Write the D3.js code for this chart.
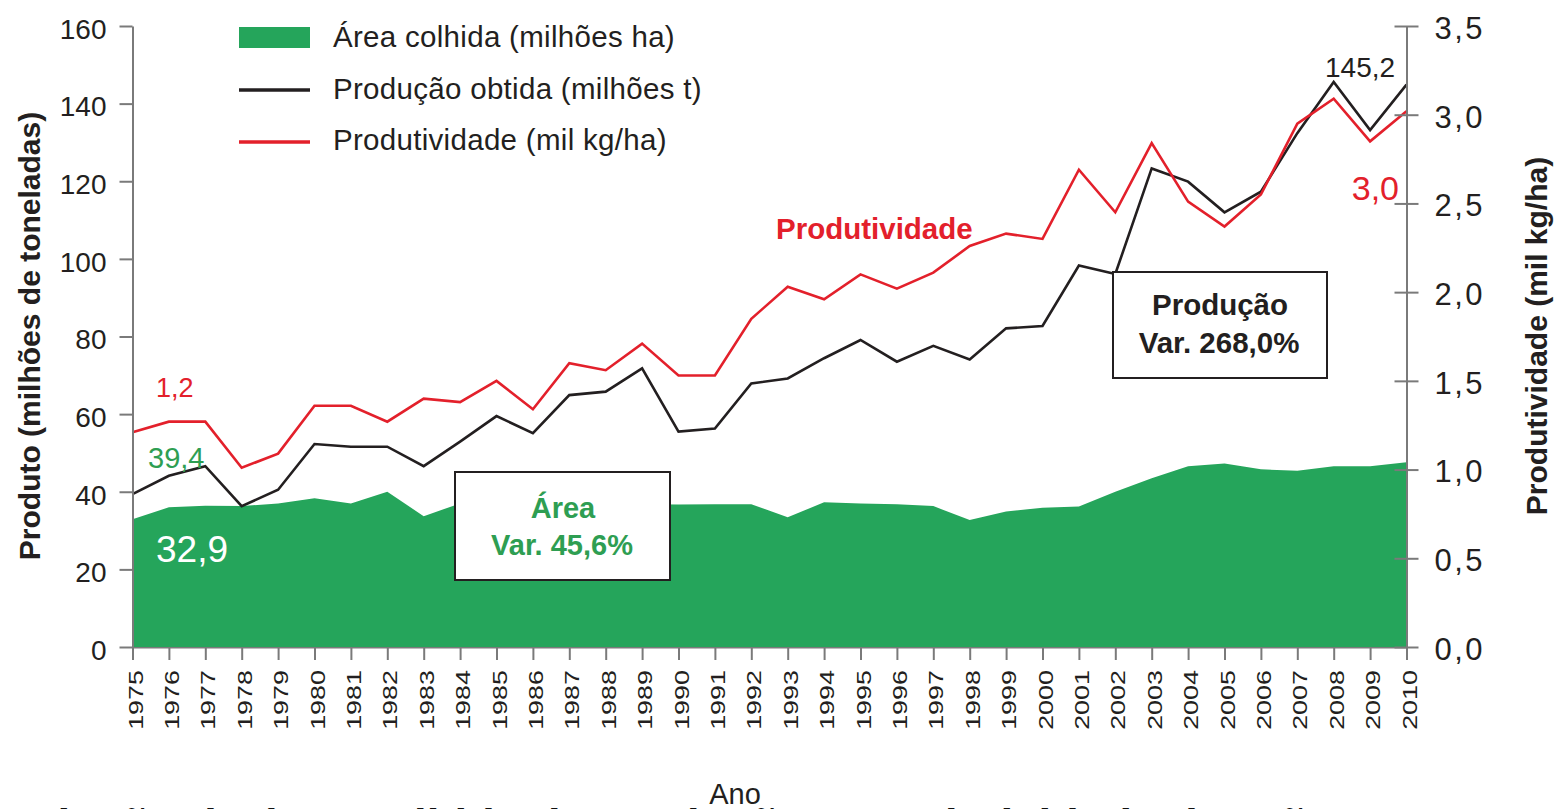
<!DOCTYPE html>
<html><head><meta charset="utf-8">
<script src="https://cdn.jsdelivr.net/npm/d3@7"></script>
<style>html,body{margin:0;padding:0;background:#fff;overflow:hidden}</style>
</head><body>
<svg id="c" width="1557" height="809"></svg>
<script>
const years = [1975,1976,1977,1978,1979,1980,1981,1982,1983,1984,1985,1986,1987,1988,1989,1990,1991,1992,1993,1994,1995,1996,1997,1998,1999,2000,2001,2002,2003,2004,2005,2006,2007,2008,2009,2010];
const areaColhida = [32.9,36.0,36.4,36.3,37.0,38.3,37.0,40.0,33.7,37.0,37.8,37.5,37.0,37.2,36.8,36.7,36.8,36.8,33.4,37.3,37.0,36.8,36.3,32.7,34.9,35.9,36.2,40.0,43.5,46.6,47.3,45.8,45.4,46.6,46.6,47.6];
const producao = [39.4,44.1,46.6,36.3,40.5,52.3,51.6,51.6,46.6,52.9,59.5,55.1,64.9,65.8,71.8,55.5,56.3,67.9,69.2,74.4,79.1,73.5,77.6,74.1,82.1,82.7,98.3,96.1,123.3,119.9,112.0,117.3,132.4,145.6,133.2,144.9];
const produtividade = [1.21,1.27,1.27,1.01,1.09,1.36,1.36,1.27,1.40,1.38,1.50,1.34,1.60,1.56,1.71,1.53,1.53,1.85,2.03,1.96,2.10,2.02,2.11,2.26,2.33,2.30,2.69,2.45,2.84,2.51,2.37,2.55,2.95,3.09,2.85,3.02];
const leftTicks = [0,20,40,60,80,100,120,140,160];
const rightTicks = [0,0.5,1.0,1.5,2.0,2.5,3.0,3.5];
const legendLabels = ["Área colhida (milhões ha)","Produção obtida (milhões t)","Produtividade (mil kg/ha)"];
const leftTitle = "Produto (milhões de toneladas)";
const rightTitle = "Produtividade (mil kg/ha)";
const xTitle = "Ano";
const caption = "Evolução da área colhida da produção e produtividade de grãos – anos 1975 a 2010";

const GREEN = "#25a55b", RED = "#e3202b", BLACK = "#231f20", AXIS = "#7a7a7a";
const FONT = "'Liberation Sans', Arial, Helvetica, sans-serif";
const x0 = 132.5, x1 = 1406.5, yBottom = 647, yTop = 26;

const svg = d3.select("#c").style("font-family", FONT);
const x = d3.scaleLinear().domain([years[0], years[years.length-1]]).range([x0, x1]);
const yL = d3.scaleLinear().domain([0,160]).range([yBottom, yTop]);
const yR = d3.scaleLinear().domain([0,3.5]).range([yBottom, yTop]);

function txt(g, s, tx, ty, o) {
  o = o || {};
  const t = g.append("text").text(s)
    .attr("transform", o.transform || `translate(${tx},${ty})`)
    .attr("font-size", o.size || 28)
    .attr("font-weight", o.bold ? "bold" : "normal")
    .attr("fill", o.fill || BLACK)
    .attr("text-anchor", o.anchor || "start")
    .style("font-family", FONT);
  if (o.ls) t.attr("letter-spacing", o.ls);
  return t;
}

// X axis (drawn beneath area)
const gx = svg.append("g").attr("transform", `translate(0,${yBottom})`)
  .call(d3.axisBottom(x).tickValues(years).tickSize(13).tickSizeOuter(0).tickFormat(d => String(d)));
gx.attr("font-family", null).attr("font-size", null);
gx.select(".domain").attr("stroke", AXIS).attr("stroke-width", 2);
gx.selectAll(".tick line").attr("stroke", AXIS).attr("stroke-width", 2);
gx.selectAll(".tick text")
  .attr("x", null).attr("y", null).attr("dy", null)
  .attr("text-anchor", "end")
  .attr("transform", "translate(9.5,23) rotate(-90) scale(1.38,1)")
  .attr("font-size", 19.5).attr("fill", BLACK).style("font-family", FONT);

// Area
svg.append("path").datum(areaColhida)
  .attr("fill", GREEN)
  .attr("d", d3.area().x((d,i) => x(years[i])).y0(yL(0)).y1(d => yL(d)));

// Lines
svg.append("path").datum(producao)
  .attr("fill", "none").attr("stroke", BLACK).attr("stroke-width", 2.6).attr("stroke-linejoin", "miter")
  .attr("d", d3.line().x((d,i) => x(years[i])).y(d => yL(d)));
svg.append("path").datum(produtividade)
  .attr("fill", "none").attr("stroke", RED).attr("stroke-width", 2.6).attr("stroke-linejoin", "miter")
  .attr("d", d3.line().x((d,i) => x(years[i])).y(d => yR(d)));

// Left axis
const gl = svg.append("g").attr("transform", `translate(${x0},0)`)
  .call(d3.axisLeft(yL).tickValues(leftTicks).tickSize(13).tickPadding(13).tickSizeOuter(0).tickFormat(d3.format("d")));
gl.attr("font-family", null).attr("font-size", null);
gl.select(".domain").attr("stroke", AXIS).attr("stroke-width", 2);
gl.selectAll(".tick line").attr("stroke", AXIS).attr("stroke-width", 2);
gl.selectAll(".tick text").attr("dy", "0.44em").attr("font-size", 28).attr("fill", BLACK).style("font-family", FONT);

// Right axis
const gr = svg.append("g").attr("transform", `translate(${x1},0)`)
  .call(d3.axisRight(yR).tickValues(rightTicks).tickSize(12).tickPadding(16).tickSizeOuter(0)
    .tickFormat(d => d3.format(".1f")(d).replace(".", ",")));
gr.attr("font-family", null).attr("font-size", null);
gr.select(".domain").attr("stroke", AXIS).attr("stroke-width", 2);
gr.selectAll(".tick line").attr("x1", -12).attr("x2", 12).attr("stroke", AXIS).attr("stroke-width", 2);
gr.selectAll(".tick text").attr("dy", "0.40em").attr("font-size", 31).attr("letter-spacing", 2.5)
  .attr("fill", BLACK).style("font-family", FONT);

// Axis titles
txt(svg, leftTitle, 0, 0, {transform: "translate(39.5,336) rotate(-90)", size: 30, bold: true, anchor: "middle"});
txt(svg, rightTitle, 0, 0, {transform: "translate(1547,336) rotate(-90)", size: 30, bold: true, anchor: "middle"});

// Legend
const lg = svg.append("g");
lg.append("rect").attr("x", 239).attr("y", 27).attr("width", 71).attr("height", 21).attr("fill", GREEN);
lg.append("line").attr("x1", 239).attr("x2", 310).attr("y1", 90).attr("y2", 90).attr("stroke", BLACK).attr("stroke-width", 3.5);
lg.append("line").attr("x1", 239).attr("x2", 310).attr("y1", 142).attr("y2", 142).attr("stroke", RED).attr("stroke-width", 3.5);
txt(lg, legendLabels[0], 333, 47, {size: 29.5, ls: 0.3});
txt(lg, legendLabels[1], 333, 98.5, {size: 29.5, ls: 0.3});
txt(lg, legendLabels[2], 333, 149.5, {size: 29.5, ls: 0.3});

// Value annotations
txt(svg, "1,2", 156, 397, {size: 27, fill: RED});
txt(svg, "39,4", 148, 468, {size: 29, fill: "#2e9e52"});
txt(svg, "32,9", 156, 562, {size: 37, fill: "#ffffff"});
txt(svg, "145,2", 1325, 77, {size: 28});
txt(svg, "3,0", 1399, 200, {size: 34, fill: RED, anchor: "end"});
txt(svg, "Produtividade", 776, 239, {size: 29.5, bold: true, fill: RED});

// Boxes
svg.append("rect").attr("x", 455).attr("y", 472).attr("width", 215).attr("height", 108)
  .attr("fill", "#fff").attr("stroke", BLACK).attr("stroke-width", 2);
txt(svg, "Área", 563, 518, {size: 29, bold: true, fill: "#2e9e52", anchor: "middle"});
txt(svg, "Var. 45,6%", 562, 555, {size: 29, bold: true, fill: "#2e9e52", anchor: "middle"});

svg.append("rect").attr("x", 1113).attr("y", 272).attr("width", 214).attr("height", 106)
  .attr("fill", "#fff").attr("stroke", BLACK).attr("stroke-width", 2);
txt(svg, "Produção", 1220, 315, {size: 29.5, bold: true, anchor: "middle"});
txt(svg, "Var. 268,0%", 1219, 353, {size: 29.5, bold: true, anchor: "middle"});

// Caption (cut off at the bottom edge, as in the source image)
txt(svg, caption, -26, 842, {size: 45.5, bold: true, fill: "#111"});
// X title drawn above the caption
txt(svg, xTitle, 735, 804, {size: 29, anchor: "middle"});
</script>
</body></html>
